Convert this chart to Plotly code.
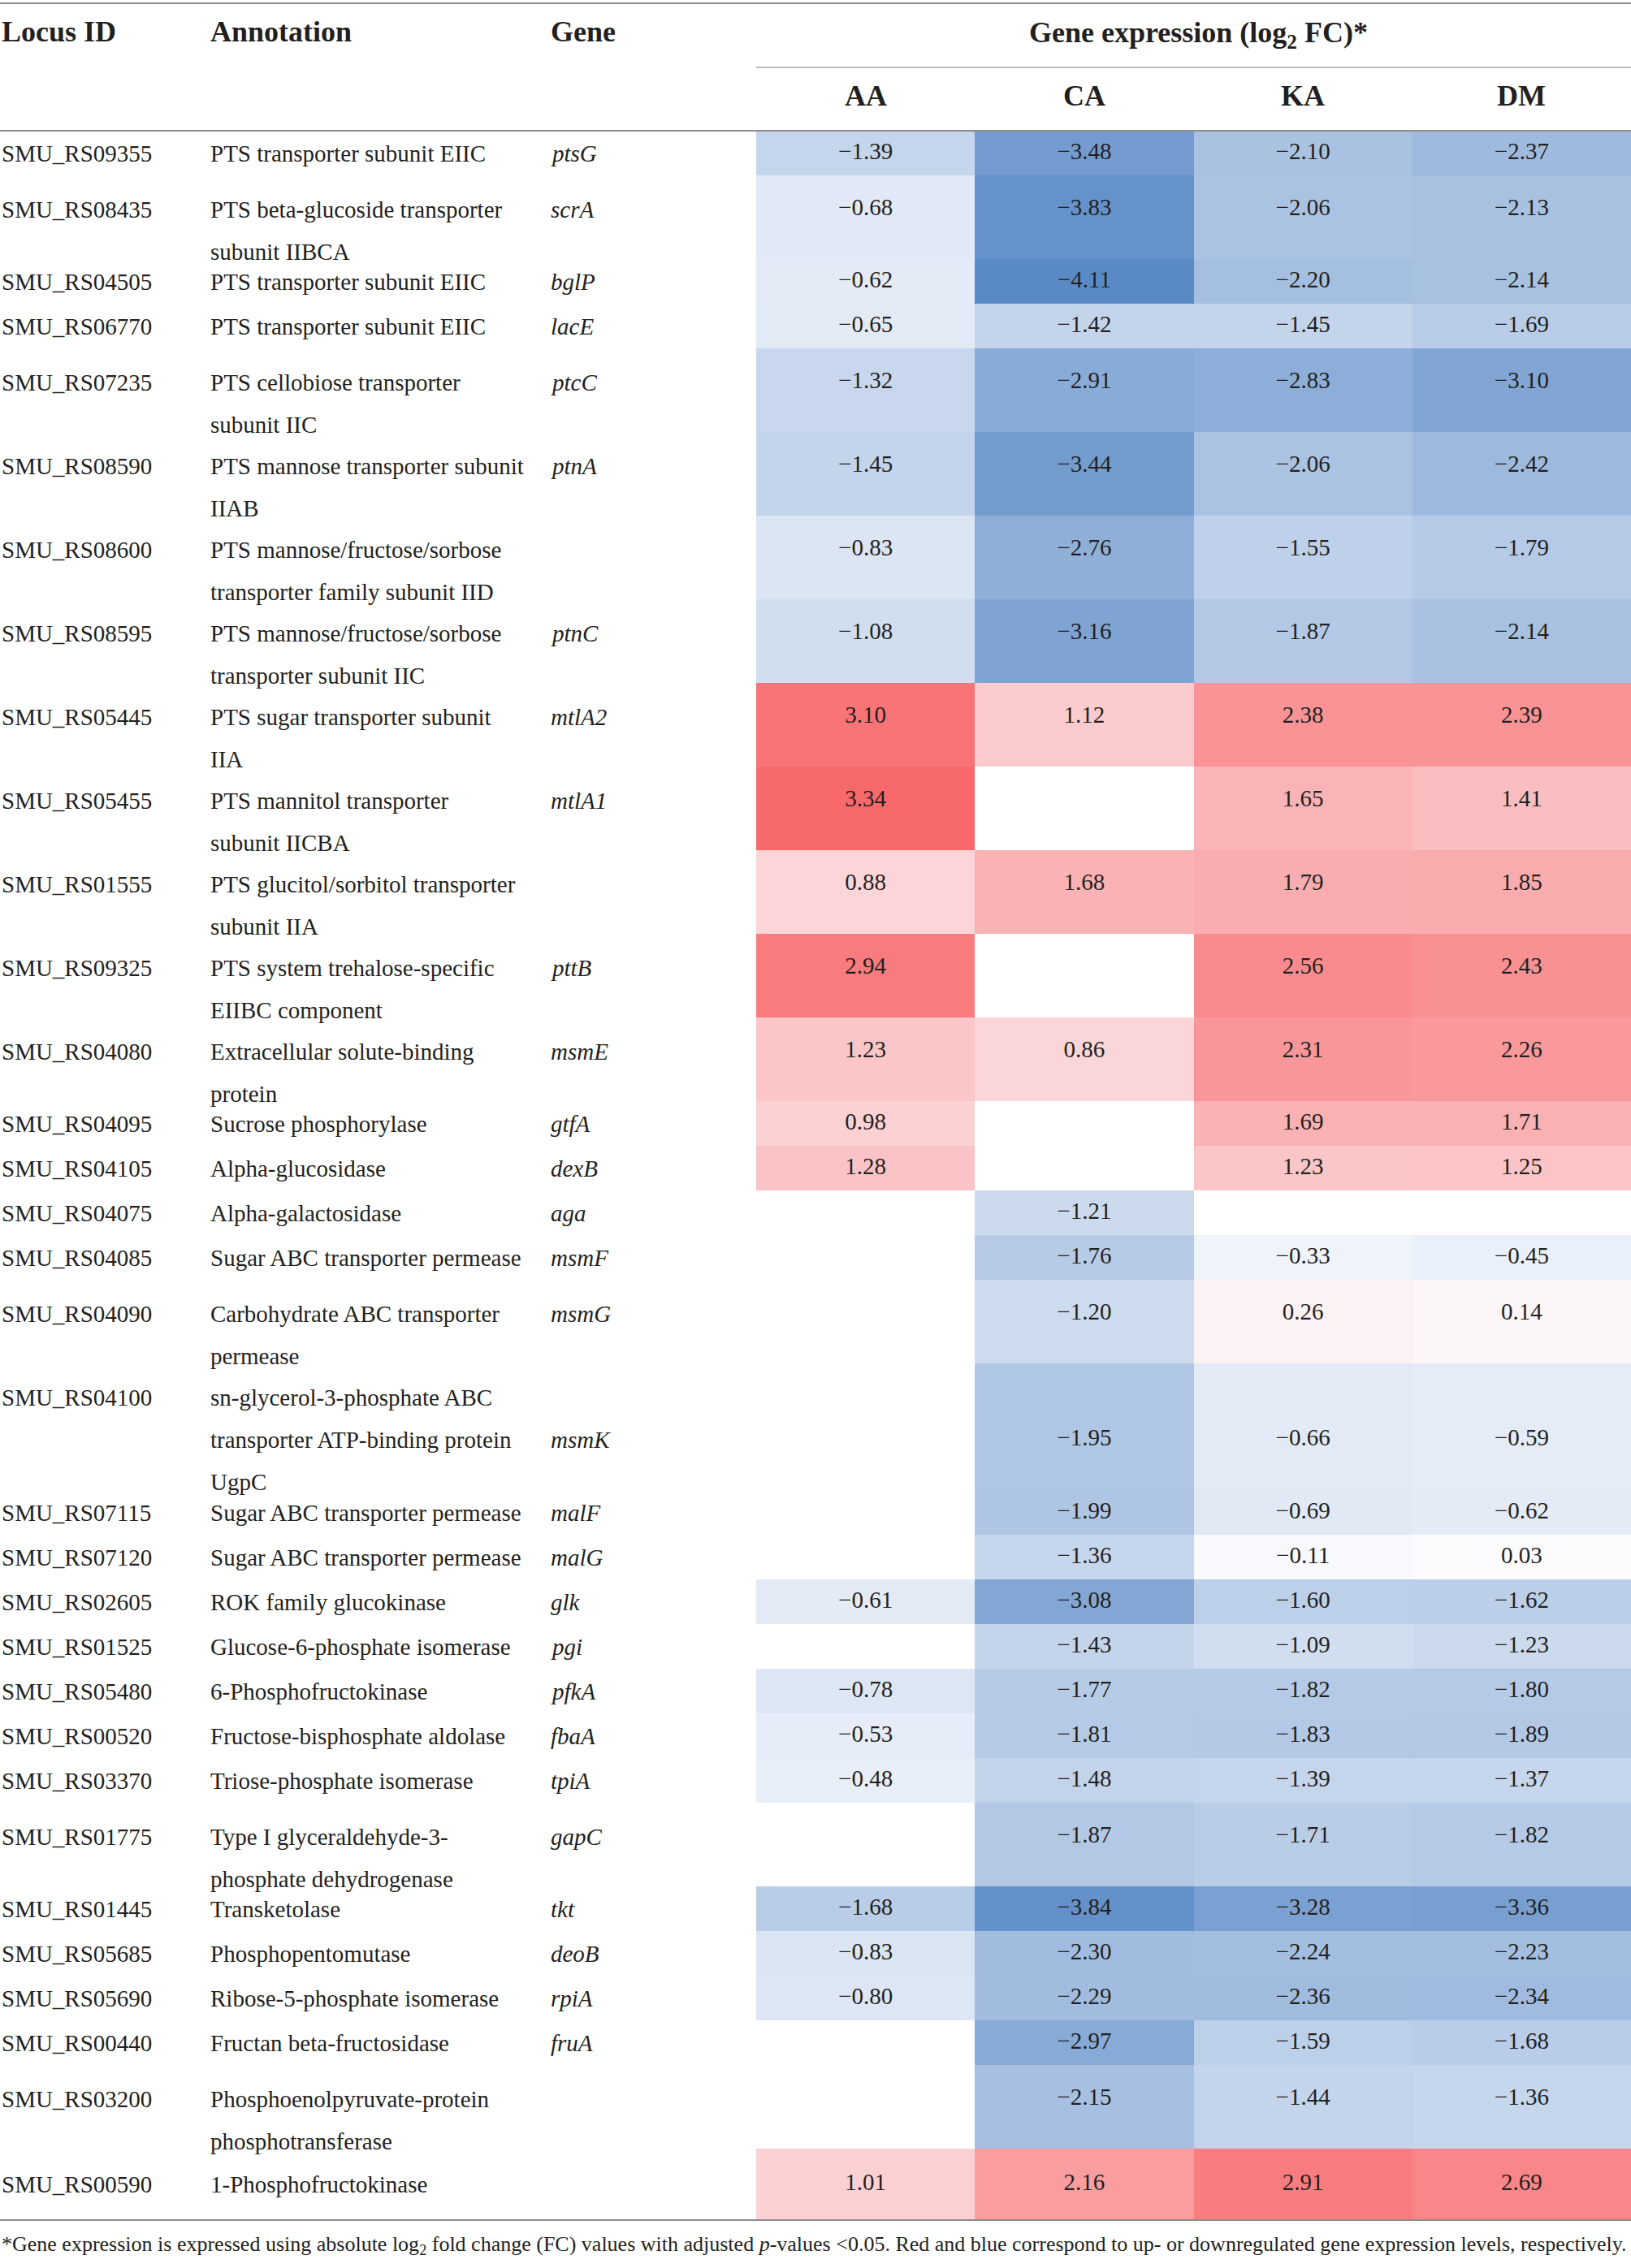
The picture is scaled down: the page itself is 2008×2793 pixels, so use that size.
import plotly.graph_objects as go

# ---------------- data ----------------
locus_ids = [
    "SMU_RS09355", "SMU_RS08435", "SMU_RS04505", "SMU_RS06770", "SMU_RS07235",
    "SMU_RS08590", "SMU_RS08600", "SMU_RS08595", "SMU_RS05445", "SMU_RS05455",
    "SMU_RS01555", "SMU_RS09325", "SMU_RS04080", "SMU_RS04095", "SMU_RS04105",
    "SMU_RS04075", "SMU_RS04085", "SMU_RS04090", "SMU_RS04100", "SMU_RS07115",
    "SMU_RS07120", "SMU_RS02605", "SMU_RS01525", "SMU_RS05480", "SMU_RS00520",
    "SMU_RS03370", "SMU_RS01775", "SMU_RS01445", "SMU_RS05685", "SMU_RS05690",
    "SMU_RS00440", "SMU_RS03200", "SMU_RS00590",
]

annotations_txt = [
    ["PTS transporter subunit EIIC"],
    ["PTS beta-glucoside transporter", "subunit IIBCA"],
    ["PTS transporter subunit EIIC"],
    ["PTS transporter subunit EIIC"],
    ["PTS cellobiose transporter", "subunit IIC"],
    ["PTS mannose transporter subunit", "IIAB"],
    ["PTS mannose/fructose/sorbose", "transporter family subunit IID"],
    ["PTS mannose/fructose/sorbose", "transporter subunit IIC"],
    ["PTS sugar transporter subunit", "IIA"],
    ["PTS mannitol transporter", "subunit IICBA"],
    ["PTS glucitol/sorbitol transporter", "subunit IIA"],
    ["PTS system trehalose-specific", "EIIBC component"],
    ["Extracellular solute-binding", "protein"],
    ["Sucrose phosphorylase"],
    ["Alpha-glucosidase"],
    ["Alpha-galactosidase"],
    ["Sugar ABC transporter permease"],
    ["Carbohydrate ABC transporter", "permease"],
    ["sn-glycerol-3-phosphate ABC", "transporter ATP-binding protein", "UgpC"],
    ["Sugar ABC transporter permease"],
    ["Sugar ABC transporter permease"],
    ["ROK family glucokinase"],
    ["Glucose-6-phosphate isomerase"],
    ["6-Phosphofructokinase"],
    ["Fructose-bisphosphate aldolase"],
    ["Triose-phosphate isomerase"],
    ["Type I glyceraldehyde-3-", "phosphate dehydrogenase"],
    ["Transketolase"],
    ["Phosphopentomutase"],
    ["Ribose-5-phosphate isomerase"],
    ["Fructan beta-fructosidase"],
    ["Phosphoenolpyruvate-protein", "phosphotransferase"],
    ["1-Phosphofructokinase"],
]

genes = [
    "ptsG", "scrA", "bglP", "lacE", "ptcC", "ptnA", "", "ptnC", "mtlA2", "mtlA1",
    "", "pttB", "msmE", "gtfA", "dexB", "aga", "msmF", "msmG", "msmK", "malF",
    "malG", "glk", "pgi", "pfkA", "fbaA", "tpiA", "gapC", "tkt", "deoB", "rpiA",
    "fruA", "", "",
]

conditions = ["AA", "CA", "KA", "DM"]

AA = [-1.39, -0.68, -0.62, -0.65, -1.32, -1.45, -0.83, -1.08, 3.10, 3.34,
      0.88, 2.94, 1.23, 0.98, 1.28, None, None, None, None, None,
      None, -0.61, None, -0.78, -0.53, -0.48, None, -1.68, -0.83, -0.80,
      None, None, 1.01]
CA = [-3.48, -3.83, -4.11, -1.42, -2.91, -3.44, -2.76, -3.16, 1.12, None,
      1.68, None, 0.86, None, None, -1.21, -1.76, -1.20, -1.95, -1.99,
      -1.36, -3.08, -1.43, -1.77, -1.81, -1.48, -1.87, -3.84, -2.30, -2.29,
      -2.97, -2.15, 2.16]
KA = [-2.10, -2.06, -2.20, -1.45, -2.83, -2.06, -1.55, -1.87, 2.38, 1.65,
      1.79, 2.56, 2.31, 1.69, 1.23, None, -0.33, 0.26, -0.66, -0.69,
      -0.11, -1.60, -1.09, -1.82, -1.83, -1.39, -1.71, -3.28, -2.24, -2.36,
      -1.59, -1.44, 2.91]
DM = [-2.37, -2.13, -2.14, -1.69, -3.10, -2.42, -1.79, -2.14, 2.39, 1.41,
      1.85, 2.43, 2.26, 1.71, 1.25, None, -0.45, 0.14, -0.59, -0.62,
      0.03, -1.62, -1.23, -1.80, -1.89, -1.37, -1.82, -3.36, -2.23, -2.34,
      -1.68, -1.36, 2.69]

footnote = ("*Gene expression is expressed using absolute log<sub>2</sub> fold change (FC) values "
            "with adjusted <i>p</i>-values &lt;0.05. Red and blue correspond to up- or "
            "downregulated gene expression levels, respectively.")

# ---------------- layout constants ----------------
W, H = 2008, 2793
FONT = "Liberation Serif"
TXT = "#231f20"
BODY = 29
HEAD = 36
FOOT = 26
RULE = "#8c8c8c"

TABLE_TOP = 161
ROW_H_BY_LINES = {1: 55, 2: 103, 3: 156}
LINE_H = 52
FIRST_LINE = 42
LAST_PAD = 33
X_LOCUS, X_ANNOT, X_GENE = 0, 257, 676
HM_LEFT, HM_RIGHT = 931, W

# row geometry derived from number of text lines
n_lines = [len(a) for a in annotations_txt]
heights = [ROW_H_BY_LINES[n] for n in n_lines]
heights[-1] += LAST_PAD
y_edges = [TABLE_TOP]
for h in heights:
    y_edges.append(y_edges[-1] + h)
TABLE_BOTTOM = y_edges[-1]

def line_y(i, k):
    top = y_edges[i]
    if n_lines[i] == 1:
        return top + heights[i] / 2
    return top + FIRST_LINE + LINE_H * k

ncol = len(conditions)
colw = (HM_RIGHT - HM_LEFT) / ncol
x_edges = [HM_LEFT + j * colw for j in range(ncol + 1)]
x_cent = [(x_edges[j] + x_edges[j + 1]) / 2 for j in range(ncol)]

series = [AA, CA, KA, DM]
z = [[series[j][i] for j in range(ncol)] for i in range(len(locus_ids))]
allv = [v for s in series for v in s if v is not None]
zmin, zmax = min(allv), max(allv)
mid = (0 - zmin) / (zmax - zmin)
colorscale = [[0, "#5A8AC6"], [mid, "#FCFCFF"], [1, "#F8696B"]]

fig = go.Figure()
fig.add_trace(go.Heatmap(
    z=z, x=x_edges, y=y_edges, colorscale=colorscale, zmin=zmin, zmax=zmax,
    showscale=False, hoverongaps=False,
))

# value labels
vx, vy, vt = [], [], []
for i in range(len(locus_ids)):
    k = (n_lines[i] - 1) // 2
    for j in range(ncol):
        v = series[j][i]
        if v is None:
            continue
        vx.append(x_cent[j])
        vy.append(line_y(i, k))
        vt.append(f"{v:.2f}".replace("-", "\u2212"))
fig.add_trace(go.Scatter(
    x=vx, y=vy, text=vt, mode="text", textposition="middle center",
    textfont=dict(family=FONT, size=BODY, color=TXT), hoverinfo="skip",
))

ann = []
def add(x, y, text, size=BODY, anchor="left", bold=False):
    ann.append(dict(x=x, y=y, xref="x", yref="y", text=(f"<b>{text}</b>" if bold else text),
                    showarrow=False, xanchor=anchor, yanchor="middle",
                    font=dict(family=FONT, size=size, color=TXT)))

# header
add(X_LOCUS, 39, "Locus ID", HEAD, bold=True)
add(X_ANNOT, 39, "Annotation", HEAD, bold=True)
add(X_GENE, 39, "Gene", HEAD, bold=True)
add((HM_LEFT + HM_RIGHT) / 2 + 6, 42, "Gene expression (log<sub>2</sub> FC)*", HEAD, "center", True)
for j, c in enumerate(conditions):
    add(x_cent[j], 118, c, HEAD, "center", True)

# body text
for i in range(len(locus_ids)):
    add(X_LOCUS, line_y(i, 0), locus_ids[i])
    for k, ln in enumerate(annotations_txt[i]):
        add(X_ANNOT, line_y(i, k), ln)
    if genes[i]:
        add(X_GENE, line_y(i, (n_lines[i] - 1) // 2), f"<i>{genes[i]}</i>")

add(0, TABLE_BOTTOM + 31, footnote, FOOT)

shapes = [
    dict(type="line", x0=0, x1=W, y0=4, y1=4, line=dict(color=RULE, width=2)),
    dict(type="line", x0=HM_LEFT, x1=W, y0=83, y1=83, line=dict(color="#a6a6a6", width=1.5)),
    dict(type="line", x0=0, x1=W, y0=TABLE_TOP, y1=TABLE_TOP, line=dict(color=RULE, width=2)),
    dict(type="line", x0=0, x1=W, y0=TABLE_BOTTOM, y1=TABLE_BOTTOM, line=dict(color=RULE, width=2)),
]

fig.update_layout(
    width=W, height=H, margin=dict(l=0, r=0, t=0, b=0),
    paper_bgcolor="white", plot_bgcolor="white", showlegend=False,
    xaxis=dict(range=[0, W], domain=[0, 1], visible=False, fixedrange=True),
    yaxis=dict(range=[H, 0], domain=[0, 1], visible=False, fixedrange=True),
    annotations=ann, shapes=shapes,
)

fig.write_html(
    "out.html",
    config={"displayModeBar": False},
    post_script="document.body.style.margin='0';document.body.style.padding='0';"
                "document.body.style.overflow='hidden';",
)
